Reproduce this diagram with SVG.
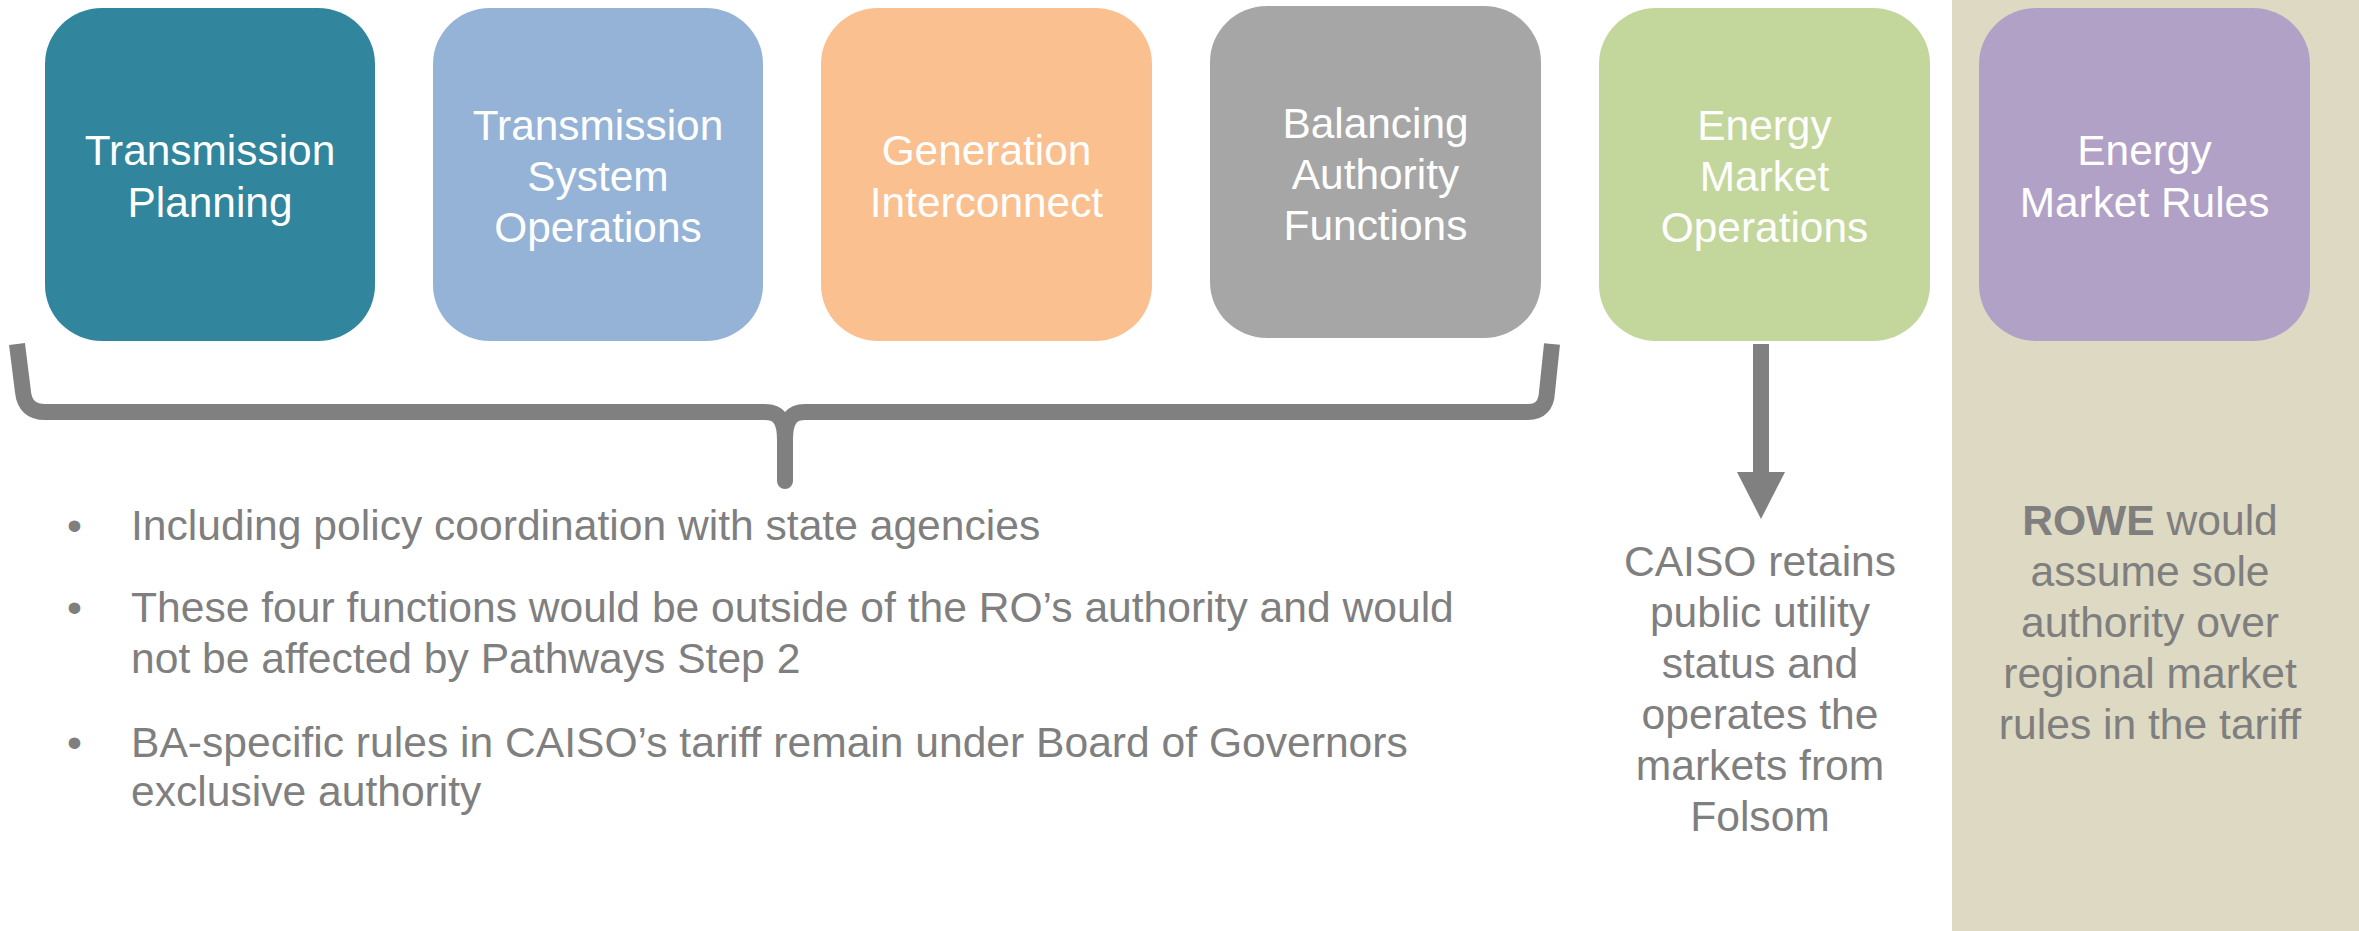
<svg xmlns="http://www.w3.org/2000/svg" width="2359" height="931" viewBox="0 0 2359 931">
<defs>
<style>
.box{stroke:none}
.bt{font-family:"Liberation Sans",Arial,sans-serif;font-size:42.4px;fill:#FFFFFF;text-anchor:middle}
.body{font-family:"Liberation Sans",Arial,sans-serif;font-size:42.6px;fill:#7F7F7F}
.mid{text-anchor:middle}
.conn{fill:none;stroke:#808080;stroke-width:16}
</style>
<marker id="ah" markerUnits="userSpaceOnUse" markerWidth="48" markerHeight="48" viewBox="0 0 47 48" refX="0" refY="24" orient="auto">
<path d="M0,0 L47,24 L0,48 Z" fill="#808080"/>
</marker>
</defs>
<rect x="0" y="0" width="2359" height="931" fill="#FFFFFF"/>
<rect id="rowe-panel" x="1952" y="0" width="407" height="931" fill="#DDD9C3"/>

<g id="node-transmission-planning">
<rect class="box" x="45" y="8" width="330" height="333" rx="57" ry="56" fill="#31859C"/>
<text class="bt"><tspan x="210" y="165">Transmission</tspan><tspan x="210" y="217">Planning</tspan></text>
</g>
<g id="node-transmission-system-operations">
<rect class="box" x="433" y="8" width="330" height="333" rx="57" ry="56" fill="#95B3D7"/>
<text class="bt"><tspan x="598" y="140">Transmission</tspan><tspan x="598" y="191">System</tspan><tspan x="598" y="242">Operations</tspan></text>
</g>
<g id="node-generation-interconnect">
<rect class="box" x="821" y="8" width="331" height="333" rx="57" ry="56" fill="#FAC090"/>
<text class="bt"><tspan x="986.5" y="165">Generation</tspan><tspan x="986.5" y="217">Interconnect</tspan></text>
</g>
<g id="node-balancing-authority-functions">
<rect class="box" x="1210" y="6" width="331" height="332" rx="57" ry="56" fill="#A6A6A6"/>
<text class="bt"><tspan x="1375.5" y="138">Balancing</tspan><tspan x="1375.5" y="189">Authority</tspan><tspan x="1375.5" y="240">Functions</tspan></text>
</g>
<g id="node-energy-market-operations">
<rect class="box" x="1599" y="8" width="331" height="333" rx="57" ry="56" fill="#C3D69B"/>
<text class="bt"><tspan x="1764.5" y="140">Energy</tspan><tspan x="1764.5" y="191">Market</tspan><tspan x="1764.5" y="242">Operations</tspan></text>
</g>
<g id="node-energy-market-rules">
<rect class="box" x="1979" y="8" width="331" height="333" rx="57" ry="56" fill="#B2A1C7"/>
<text class="bt"><tspan x="2144.5" y="165">Energy</tspan><tspan x="2144.5" y="217">Market Rules</tspan></text>
</g>

<g id="connectors">
<path class="conn" d="M17,344 L23,392 Q25,412 45,412 L765,412 C779,412 785,420 785,440 M785,440 C785,420 791,412 805,412 L1528,412 Q1546,412 1547,392 L1552,344"/>
<path class="conn" stroke-linecap="round" d="M785,436 L785,481"/>
<path class="conn" d="M1761,344 L1761,472" marker-end="url(#ah)"/>
</g>

<g id="bullets">
<text class="body" x="67" y="540">•</text>
<text class="body" x="131" y="540">Including policy coordination with state agencies</text>
<text class="body" x="67" y="622">•</text>
<text class="body" x="131" y="622">These four functions would be outside of the RO’s authority and would</text>
<text class="body" x="131" y="673">not be affected by Pathways Step 2</text>
<text class="body" x="67" y="757">•</text>
<text class="body" x="131" y="757">BA-specific rules in CAISO’s tariff remain under Board of Governors</text>
<text class="body" x="131" y="806">exclusive authority</text>
</g>

<g id="caiso-note">
<text class="body mid"><tspan x="1760" y="576">CAISO retains</tspan><tspan x="1760" y="627">public utility</tspan><tspan x="1760" y="678">status and</tspan><tspan x="1760" y="729">operates the</tspan><tspan x="1760" y="780">markets from</tspan><tspan x="1760" y="831">Folsom</tspan></text>
</g>

<g id="rowe-note">
<text class="body mid"><tspan x="2150" y="535"><tspan font-weight="bold">ROWE</tspan> would</tspan><tspan x="2150" y="586">assume sole</tspan><tspan x="2150" y="637">authority over</tspan><tspan x="2150" y="688">regional market</tspan><tspan x="2150" y="739">rules in the tariff</tspan></text>
</g>
</svg>
